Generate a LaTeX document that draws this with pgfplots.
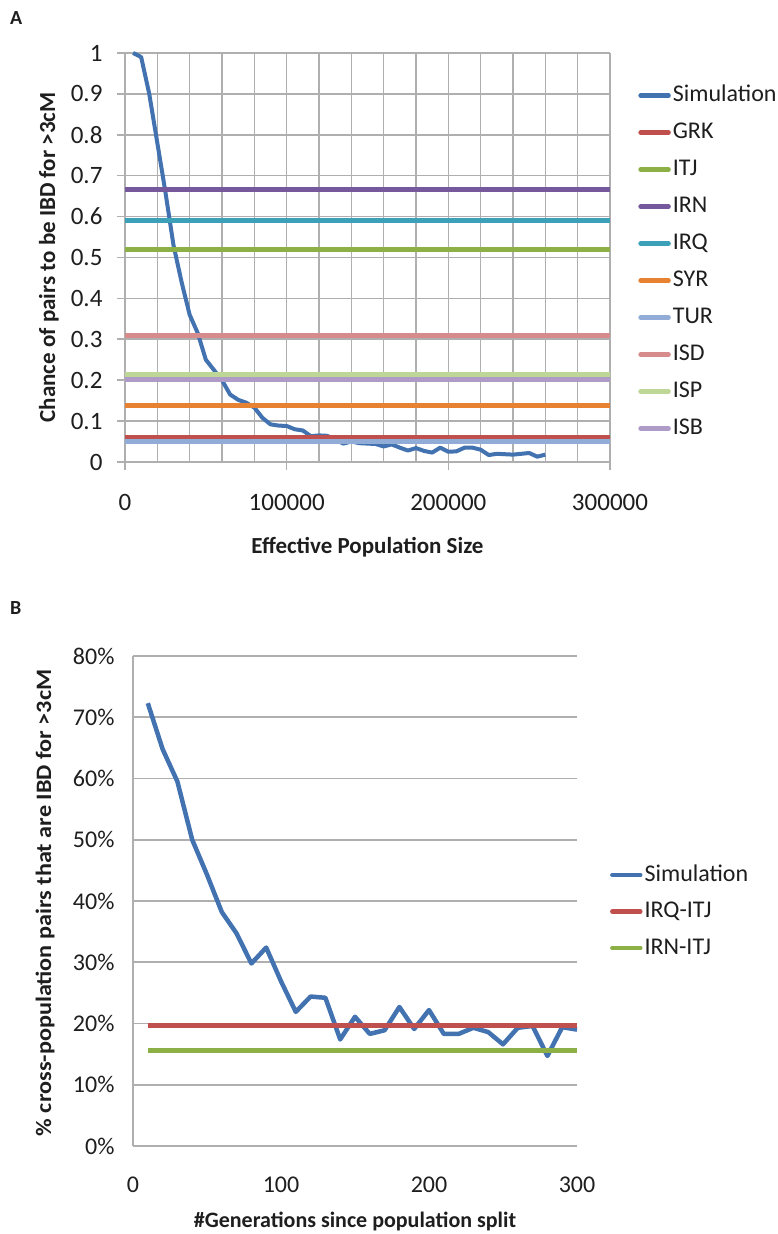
\documentclass[border=0pt]{standalone}
\usepackage{fontspec}
\setmainfont{Carlito}
\usepackage{graphicx}
\usepackage{pgfplots}
\pgfplotsset{compat=1.18}
\definecolor{csim}{RGB}{66,114,176}
\definecolor{cgrk}{RGB}{192,80,77}
\definecolor{citj}{RGB}{140,176,70}
\definecolor{cirn}{RGB}{118,88,156}
\definecolor{cirq}{RGB}{60,160,185}
\definecolor{csyr}{RGB}{230,130,50}
\definecolor{ctur}{RGB}{145,172,214}
\definecolor{cisd}{RGB}{214,140,140}
\definecolor{cisp}{RGB}{190,214,150}
\definecolor{cisb}{RGB}{175,155,200}
\definecolor{cgrid}{RGB}{175,175,175}
\definecolor{ctxt}{RGB}{30,30,30}
\pgfplotsset{
  legimg/.style={legend image code/.code={\draw[line width=4.5pt,line cap=round,##1] (0pt,0pt) -- (28pt,0pt);}},
}
\begin{document}
\begin{tikzpicture}[x=1pt,y=1pt]
\useasboundingbox (0,0) rectangle (777,1234);
\node[anchor=base west, font=\fontsize{20}{22}\selectfont\bfseries, text=ctxt, inner sep=0pt] at (10,1234-25) {A};
\node[anchor=base west, font=\fontsize{20}{22}\selectfont\bfseries, text=ctxt, inner sep=0pt] at (10,1234-615) {B};
\begin{axis}[
  at={(125pt,772pt)}, anchor=south west, scale only axis,
  width=485pt, height=409pt,
  xmin=0, xmax=300000, ymin=0, ymax=1,
  clip=false,
  scaled x ticks=false, scaled y ticks=false,
  axis lines=left, axis line style={-, cgrid, line width=1.6pt},
  xtick={0,100000,200000,300000},
  xticklabels={0,100000,200000,300000},
  minor xtick={20000,40000,60000,80000,120000,140000,160000,180000,220000,240000,260000,280000},
  ytick={0,0.1,0.2,0.3,0.4,0.5,0.6,0.7,0.8,0.9,1},
  yticklabels={0,0.1,0.2,0.3,0.4,0.5,0.6,0.7,0.8,0.9,1},
  /pgf/number format/assume math mode=true,
  grid=both,
  major grid style={cgrid, line width=1.6pt},
  minor grid style={cgrid, line width=1.6pt},
  tick align=outside, major tick length=8pt, minor tick length=0pt,
  tick style={cgrid, line width=1.6pt},
  ticklabel style={font=\fontsize{25}{30}\selectfont, text=ctxt},
  xticklabel style={yshift=-21pt},
  yticklabel style={xshift=-11pt},
  xlabel={Effective Population Size},
  ylabel={Chance of pairs to be IBD for >3cM},
  label style={font=\fontsize{23}{26}\selectfont\bfseries, text=ctxt},
  xlabel style={at={(axis description cs:0.5,-0.208)}, anchor=center},
  ylabel style={at={(axis description cs:-0.157,0.5)}, anchor=center},
  legend style={at={(1.058,0.928)}, anchor=north west, draw=none, fill=none,
    font=\fontsize{24}{28}\selectfont, text=ctxt, inner sep=0pt,
    row sep=11pt, nodes={inner sep=2pt, text height=17pt, text depth=5pt}},
  legend cell align=left,
  legimg,
]
\addplot[csim, line width=4pt, line join=round] coordinates {
(5000,1.0) (10000,0.99) (15000,0.90) (20000,0.78) (25000,0.66) (30000,0.53)
(35000,0.44) (40000,0.36) (45000,0.315) (50000,0.25) (55000,0.225) (60000,0.20)
(65000,0.165) (70000,0.152) (75000,0.145) (80000,0.133) (85000,0.108) (90000,0.092)
(95000,0.089) (100000,0.088) (105000,0.080) (110000,0.077) (115000,0.063) (120000,0.065)
(125000,0.064) (130000,0.055) (135000,0.045) (140000,0.050) (145000,0.046) (150000,0.045)
(155000,0.044) (160000,0.038) (165000,0.043) (170000,0.035) (175000,0.028) (180000,0.034)
(185000,0.027) (190000,0.023) (195000,0.035) (200000,0.025) (205000,0.026) (210000,0.035)
(215000,0.035) (220000,0.030) (225000,0.017) (230000,0.020) (235000,0.019) (240000,0.018)
(245000,0.020) (250000,0.022) (255000,0.013) (260000,0.018)};
\addlegendentry{Simulation}
\addplot[cgrk, line width=5pt] coordinates {(0,0.059) (300000,0.059)};
\addlegendentry{GRK}
\addplot[citj, line width=5pt] coordinates {(0,0.520) (300000,0.520)};
\addlegendentry{ITJ}
\addplot[cirn, line width=5pt] coordinates {(0,0.666) (300000,0.666)};
\addlegendentry{IRN}
\addplot[cirq, line width=5pt] coordinates {(0,0.591) (300000,0.591)};
\addlegendentry{IRQ}
\addplot[csyr, line width=5pt] coordinates {(0,0.139) (300000,0.139)};
\addlegendentry{SYR}
\addplot[ctur, line width=5pt] coordinates {(0,0.051) (300000,0.051)};
\addlegendentry{TUR}
\addplot[cisd, line width=5pt] coordinates {(0,0.309) (300000,0.309)};
\addlegendentry{ISD}
\addplot[cisp, line width=5pt] coordinates {(0,0.213) (300000,0.213)};
\addlegendentry{ISP}
\addplot[cisb, line width=5pt] coordinates {(0,0.202) (300000,0.202)};
\addlegendentry{ISB}
\end{axis}

\begin{axis}[
  at={(133pt,88pt)}, anchor=south west, scale only axis,
  width=444pt, height=490pt,
  xmin=0, xmax=300, ymin=0, ymax=80,
  clip=false,
  axis lines=left, axis line style={-, cgrid, line width=1.6pt},
  xtick={0,100,200,300},
  xticklabels={0,100,200,300},
  ytick={0,10,20,30,40,50,60,70,80},
  yticklabels={0\%,10\%,20\%,30\%,40\%,50\%,60\%,70\%,80\%},
  /pgf/number format/assume math mode=true,
  ymajorgrids,
  major grid style={cgrid, line width=1.6pt},
  major tick length=0pt,
  ticklabel style={font=\fontsize{24}{29}\selectfont, text=ctxt},
  xticklabel style={yshift=-27pt},
  yticklabel style={xshift=-15pt},
  xlabel={\#Generations since population split},
  ylabel={\scalebox{1.1}[1]{\% cross-population pairs that are IBD for >3cM}},
  label style={font=\fontsize{22}{26}\selectfont\bfseries, text=ctxt},
  xlabel style={at={(axis description cs:0.5,-0.155)}, anchor=center},
  ylabel style={at={(axis description cs:-0.198,0.496)}, anchor=center},
  legend style={at={(1.074,0.58)}, anchor=north west, draw=none, fill=none,
    font=\fontsize{24}{28}\selectfont, text=ctxt, inner sep=0pt,
    row sep=10.5pt, nodes={inner sep=2pt, text height=17pt, text depth=5pt}},
  legend cell align=left,
  legimg,
]
\addplot[csim, line width=4.5pt, line join=round] coordinates {
(10,72.3) (20,64.8) (30,59.5) (40,50.0) (50,44.3) (60,38.2) (70,34.7) (80,29.8)
(90,32.4) (100,26.9) (110,21.9) (120,24.4) (130,24.2) (140,17.4) (150,21.1)
(160,18.3) (170,18.9) (180,22.7) (190,19.1) (200,22.2) (210,18.3) (220,18.3)
(230,19.3) (240,18.6) (250,16.6) (260,19.3) (270,19.6) (280,14.7) (290,19.4) (300,19.0)};
\addlegendentry{Simulation}
\addplot[cgrk, line width=5.5pt] coordinates {(10,19.7) (300,19.7)};
\addlegendentry{IRQ-ITJ}
\addplot[citj, line width=5.5pt] coordinates {(10,15.6) (300,15.6)};
\addlegendentry{IRN-ITJ}
\end{axis}
\end{tikzpicture}
\end{document}
